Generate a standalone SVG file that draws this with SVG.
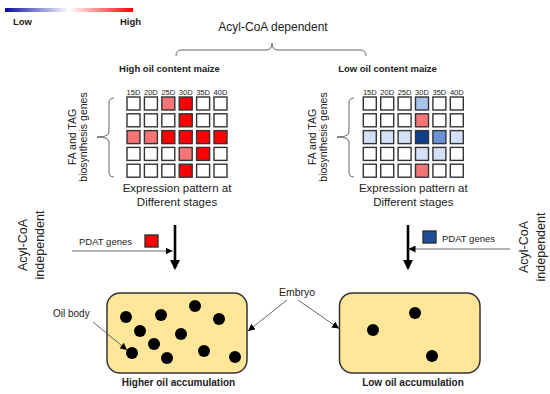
<svg xmlns="http://www.w3.org/2000/svg" width="550" height="394" viewBox="0 0 550 394">
<defs>
<linearGradient id="legendGrad" x1="0" y1="0" x2="1" y2="0">
<stop offset="0" stop-color="#0a0aa5"/>
<stop offset="0.5" stop-color="#ffffff"/>
<stop offset="1" stop-color="#ff0000"/>
</linearGradient>
<marker id="thinHead" viewBox="0 0 10 10" refX="10" refY="5" markerWidth="7" markerHeight="7" markerUnits="userSpaceOnUse" orient="auto">
<path d="M0,0 L10,5 L0,10 Z" fill="#000"/>
</marker>
<marker id="thickHead" viewBox="0 0 10 10" refX="8" refY="5" markerWidth="4" markerHeight="4" orient="auto">
<path d="M0,0 L10,5 L0,10 Z" fill="#000"/>
</marker>
</defs>
<style>
text{font-family:"Liberation Sans",Arial,sans-serif;fill:#222}
.b{font-weight:bold}
.sq{stroke:#333;stroke-width:1.4;fill:#fff}
.r{fill:#ff0000}
.lr{fill:#f37575}
.db{fill:#0e3f8c}
.mb{fill:#6b93d6}
.lb{fill:#a9c3ea}
.pb{fill:#d3e0f5}
.col{font-size:7.5px;text-anchor:middle}
.brace{fill:none;stroke:#666;stroke-width:1}
.thin{fill:none;stroke:#555;stroke-width:0.9}
.thick{fill:none;stroke:#000;stroke-width:2.6}
.box{fill:#ffe699;stroke:#333;stroke-width:1.5}
.dot{fill:#000}
</style>
<rect width="550" height="394" fill="#fff"/>

<g id="legend">
<rect x="5" y="8" width="128" height="4" fill="url(#legendGrad)"/>
<text x="13" y="25" class="b" font-size="9.5">Low</text>
<text x="120" y="25" class="b" font-size="9.5">High</text>
</g>

<g id="acyl-dependent">
<text x="273" y="31" font-size="12" text-anchor="middle">Acyl-CoA dependent</text>
<path class="brace" d="M176,56 Q176,50 182,50 L266,50 Q272,50 272,43 Q272,50 278,50 L360,50 Q366,50 366,56"/>
</g>

<g id="high-maize">
<text x="169.5" y="72" class="b" font-size="9.5" text-anchor="middle">High oil content maize</text>
<g font-size="10.5" text-anchor="middle">
<text transform="translate(75.5,137) rotate(-90)">FA and TAG</text>
<text transform="translate(86.5,137) rotate(-90)">biosynthesis genes</text>
</g>
<path class="brace" d="M114,98 Q109,98 109,103 L109,132 Q109,137 97,137 Q109,137 109,142 L109,172 Q109,177 114,177"/>
<g class="col">
<text x="133.5" y="95">15D</text><text x="150.9" y="95">20D</text><text x="168.3" y="95">25D</text><text x="185.7" y="95">30D</text><text x="203.1" y="95">35D</text><text x="220.5" y="95">40D</text>
</g>
<g id="grid-high">
<rect class="sq" x="127" y="97" width="13" height="13"/><rect class="sq" x="144.4" y="97" width="13" height="13"/><rect class="sq lr" x="161.8" y="97" width="13" height="13"/><rect class="sq r" x="179.2" y="97" width="13" height="13"/><rect class="sq" x="196.6" y="97" width="13" height="13"/><rect class="sq" x="214" y="97" width="13" height="13"/>
<rect class="sq" x="127" y="113.8" width="13" height="13"/><rect class="sq" x="144.4" y="113.8" width="13" height="13"/><rect class="sq" x="161.8" y="113.8" width="13" height="13"/><rect class="sq r" x="179.2" y="113.8" width="13" height="13"/><rect class="sq" x="196.6" y="113.8" width="13" height="13"/><rect class="sq" x="214" y="113.8" width="13" height="13"/>
<rect class="sq lr" x="127" y="130.6" width="13" height="13"/><rect class="sq lr" x="144.4" y="130.6" width="13" height="13"/><rect class="sq r" x="161.8" y="130.6" width="13" height="13"/><rect class="sq r" x="179.2" y="130.6" width="13" height="13"/><rect class="sq r" x="196.6" y="130.6" width="13" height="13"/><rect class="sq r" x="214" y="130.6" width="13" height="13"/>
<rect class="sq" x="127" y="147.4" width="13" height="13"/><rect class="sq" x="144.4" y="147.4" width="13" height="13"/><rect class="sq" x="161.8" y="147.4" width="13" height="13"/><rect class="sq lr" x="179.2" y="147.4" width="13" height="13"/><rect class="sq r" x="196.6" y="147.4" width="13" height="13"/><rect class="sq" x="214" y="147.4" width="13" height="13"/>
<rect class="sq" x="127" y="164.2" width="13" height="13"/><rect class="sq" x="144.4" y="164.2" width="13" height="13"/><rect class="sq" x="161.8" y="164.2" width="13" height="13"/><rect class="sq r" x="179.2" y="164.2" width="13" height="13"/><rect class="sq" x="196.6" y="164.2" width="13" height="13"/><rect class="sq" x="214" y="164.2" width="13" height="13"/>
</g>
<text x="177" y="192" font-size="11.5" text-anchor="middle">Expression pattern at</text>
<text x="177" y="206" font-size="11.5" text-anchor="middle">Different stages</text>
</g>

<g id="low-maize">
<text x="387.5" y="72" class="b" font-size="9.5" text-anchor="middle">Low oil content maize</text>
<g font-size="10.5" text-anchor="middle">
<text transform="translate(315.5,137) rotate(-90)">FA and TAG</text>
<text transform="translate(326.5,137) rotate(-90)">biosynthesis genes</text>
</g>
<path class="brace" d="M354,98 Q349,98 349,103 L349,132 Q349,137 337,137 Q349,137 349,142 L349,172 Q349,177 354,177"/>
<g class="col">
<text x="369.8" y="95">15D</text><text x="387.2" y="95">20D</text><text x="404.6" y="95">25D</text><text x="422" y="95">30D</text><text x="439.4" y="95">35D</text><text x="456.8" y="95">40D</text>
</g>
<g id="grid-low">
<rect class="sq" x="363.3" y="97" width="13" height="13"/><rect class="sq" x="380.7" y="97" width="13" height="13"/><rect class="sq" x="398.1" y="97" width="13" height="13"/><rect class="sq lb" x="415.5" y="97" width="13" height="13"/><rect class="sq" x="432.9" y="97" width="13" height="13"/><rect class="sq" x="450.3" y="97" width="13" height="13"/>
<rect class="sq" x="363.3" y="113.8" width="13" height="13"/><rect class="sq" x="380.7" y="113.8" width="13" height="13"/><rect class="sq" x="398.1" y="113.8" width="13" height="13"/><rect class="sq lr" x="415.5" y="113.8" width="13" height="13"/><rect class="sq" x="432.9" y="113.8" width="13" height="13"/><rect class="sq" x="450.3" y="113.8" width="13" height="13"/>
<rect class="sq pb" x="363.3" y="130.6" width="13" height="13"/><rect class="sq pb" x="380.7" y="130.6" width="13" height="13"/><rect class="sq pb" x="398.1" y="130.6" width="13" height="13"/><rect class="sq db" x="415.5" y="130.6" width="13" height="13"/><rect class="sq mb" x="432.9" y="130.6" width="13" height="13"/><rect class="sq pb" x="450.3" y="130.6" width="13" height="13"/>
<rect class="sq" x="363.3" y="147.4" width="13" height="13"/><rect class="sq" x="380.7" y="147.4" width="13" height="13"/><rect class="sq" x="398.1" y="147.4" width="13" height="13"/><rect class="sq pb" x="415.5" y="147.4" width="13" height="13"/><rect class="sq pb" x="432.9" y="147.4" width="13" height="13"/><rect class="sq" x="450.3" y="147.4" width="13" height="13"/>
<rect class="sq" x="363.3" y="164.2" width="13" height="13"/><rect class="sq" x="380.7" y="164.2" width="13" height="13"/><rect class="sq" x="398.1" y="164.2" width="13" height="13"/><rect class="sq lr" x="415.5" y="164.2" width="13" height="13"/><rect class="sq" x="432.9" y="164.2" width="13" height="13"/><rect class="sq" x="450.3" y="164.2" width="13" height="13"/>
</g>
<text x="413.3" y="192" font-size="11.5" text-anchor="middle">Expression pattern at</text>
<text x="413.3" y="206" font-size="11.5" text-anchor="middle">Different stages</text>
</g>

<g id="independent-left" font-size="12.5" text-anchor="middle">
<text transform="translate(27,245) rotate(-90)">Acyl-CoA</text>
<text transform="translate(43.5,245) rotate(-90)">independent</text>
</g>
<g id="independent-right" font-size="12.5" text-anchor="middle">
<text transform="translate(528,247) rotate(-90)">Acyl-CoA</text>
<text transform="translate(544.5,247) rotate(-90)">independent</text>
</g>

<g id="pdat-left">
<text x="79" y="245" font-size="9.5">PDAT genes</text>
<rect class="sq r" x="145" y="235" width="13" height="12"/>
</g>
<g id="pdat-right">
<rect class="sq" x="423" y="231" width="13" height="12" fill="#1f4e96" style="fill:#1f4e96"/>
<text x="442" y="242" font-size="9.5">PDAT genes</text>
</g>

<g id="embryo-high">
<rect class="box" x="107" y="293" width="140" height="80" rx="13"/>
<circle class="dot" cx="126" cy="317" r="6"/>
<circle class="dot" cx="161" cy="315" r="6"/>
<circle class="dot" cx="195" cy="306" r="6"/>
<circle class="dot" cx="219" cy="319" r="6"/>
<circle class="dot" cx="140" cy="331" r="6"/>
<circle class="dot" cx="181" cy="334" r="6"/>
<circle class="dot" cx="154" cy="344" r="6"/>
<circle class="dot" cx="132" cy="353" r="6"/>
<circle class="dot" cx="167" cy="358" r="6"/>
<circle class="dot" cx="204" cy="351" r="6"/>
<circle class="dot" cx="235" cy="357" r="6"/>
<text x="178.5" y="386" class="b" font-size="10" text-anchor="middle">Higher oil accumulation</text>
</g>
<g id="embryo-low">
<rect class="box" x="339.5" y="293" width="140.5" height="80" rx="13"/>
<circle class="dot" cx="415" cy="313" r="6"/>
<circle class="dot" cx="373" cy="330" r="6"/>
<circle class="dot" cx="432" cy="356" r="6"/>
<text x="413" y="386" class="b" font-size="10" text-anchor="middle">Low oil accumulation</text>
</g>

<g id="labels">
<text x="53" y="317" font-size="10">Oil body</text>
<text x="279" y="296" font-size="10.5">Embryo</text>
</g>

<g id="connectors">
<line class="thick" x1="175" y1="225" x2="175" y2="268" marker-end="url(#thickHead)"/>
<line class="thick" x1="408" y1="225" x2="408" y2="268" marker-end="url(#thickHead)"/>
<line class="thin" x1="72" y1="251" x2="172.5" y2="251" marker-end="url(#thinHead)"/>
<line class="thin" x1="510" y1="249" x2="408.5" y2="249" marker-end="url(#thinHead)"/>
<line class="thin" x1="93" y1="322" x2="127" y2="350" marker-end="url(#thinHead)"/>
<line class="thin" x1="287" y1="300" x2="248" y2="331" marker-end="url(#thinHead)"/>
<line class="thin" x1="298" y1="300" x2="339" y2="328.5" marker-end="url(#thinHead)"/>
</g>
</svg>
